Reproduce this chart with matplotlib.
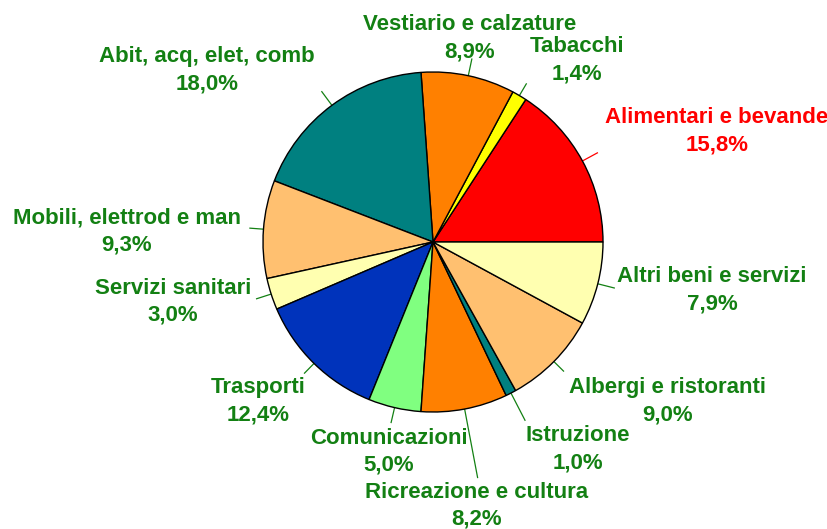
import matplotlib
matplotlib.use("Agg")
import matplotlib.pyplot as plt
import numpy as np

plt.rcParams["font.family"] = ["Liberation Sans", "DejaVu Sans"]

# data
categories = ["Alimentari e bevande", "Tabacchi", "Vestiario e calzature",
              "Abit, acq, elet, comb", "Mobili, elettrod e man", "Servizi sanitari",
              "Trasporti", "Comunicazioni", "Ricreazione e cultura", "Istruzione",
              "Albergi e ristoranti", "Altri beni e servizi"]
shares = [15.8, 1.4, 8.9, 18.0, 9.3, 3.0, 12.4, 5.0, 8.2, 1.0, 9.0, 7.9]

colors = ["#FF0000", "#FFFF00", "#FF8000", "#008080", "#FFC070", "#FFFFB0",
          "#0033BB", "#80FF80", "#FF8000", "#008080", "#FFC070", "#FFFFB0"]
GREEN = "#138013"
text_colors = ["#FF0000"] + [GREEN] * 11

# label centres (pixel coords, y from top) and leader lengths (fraction of radius)
label_pos = [(717, 131), (577, 60), (470, 38), (207, 70), (127, 231), (173, 302),
             (258, 401), (389, 452), (477, 506), (578, 449), (668, 401), (712, 290)]
leader_len = [0.10, 0.08, 0.10, 0.10, 0.08, 0.09, 0.08, 0.09, 0.41, 0.18, 0.08, 0.10]

W, H = 828, 529
CX, CY, R = 433, 242, 170
GAP = 13.5  # half distance between the two label lines

fig = plt.figure(figsize=(W / 100, H / 100), dpi=100, facecolor="white")
ax = fig.add_axes([0, 0, 1, 1])

wedges, _ = ax.pie(shares, colors=colors, startangle=0, counterclock=True,
                   center=(CX, H - CY), radius=R,
                   wedgeprops=dict(edgecolor="black", linewidth=1.0))

for w, name, v, tc, (lx, ly), L in zip(wedges, categories, shares, text_colors,
                                       label_pos, leader_len):
    ang = np.deg2rad((w.theta1 + w.theta2) / 2)
    x0 = CX + R * np.cos(ang)
    y0 = (H - CY) + R * np.sin(ang)
    x1 = CX + R * (1 + L) * np.cos(ang)
    y1 = (H - CY) + R * (1 + L) * np.sin(ang)
    ax.plot([x0, x1], [y0, y1], color=tc, lw=0.9, zorder=0)
    pct = f"{v:.1f}".replace(".", ",") + "%"
    ax.text(lx, H - ly + GAP, name, ha="center", va="center",
            fontsize=16, fontweight="bold", color=tc)
    ax.text(lx, H - ly - GAP, pct, ha="center", va="center",
            fontsize=16, fontweight="bold", color=tc)

ax.set_xlim(0, W)
ax.set_ylim(0, H)
ax.set_aspect("equal")
ax.axis("off")

fig.savefig("out.png", dpi=100, facecolor="white")
plt.close()
